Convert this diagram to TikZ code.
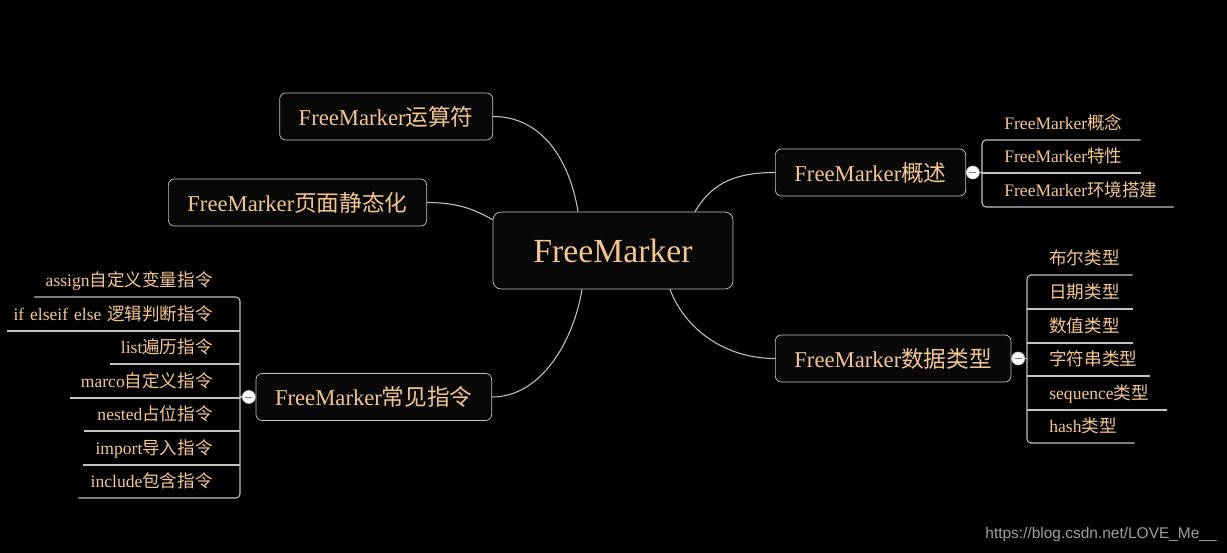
\documentclass[tikz,border=0pt]{standalone}
\usepackage{fontspec}
\setmainfont{Liberation Serif}
\newfontfamily\cjkfont{Noto Sans CJK SC}
\newfontfamily\markfont{Liberation Sans}
\usepackage{tikz}
\usetikzlibrary{positioning}
\definecolor{fmorange}{RGB}{244,198,142}
\definecolor{fmline}{RGB}{195,195,195}
\definecolor{fmbox}{RGB}{8,8,8}
\newcommand{\zh}[1]{{\cjkfont #1}}

\begin{document}
\begin{tikzpicture}[x=0.02cm,y=-0.02cm,
    roottopic/.style={draw=fmline,fill=fmbox,rounded corners=0.16cm,text=fmorange,font=\fontsize{19.2}{22}\selectfont,minimum width=4.8cm,minimum height=1.54cm},
    topic/.style={draw=fmline,fill=fmbox,rounded corners=0.12cm,text=fmorange,font=\fontsize{12.9}{15}\selectfont,minimum height=0.94cm,inner xsep=0.38cm},
    leafr/.style={anchor=south west,inner xsep=0pt,inner ysep=0.1cm,text depth=0.1cm,text width=#1,align=left,text=fmorange,font=\fontsize{10}{12}\selectfont},
    leafl/.style={anchor=south east,inner xsep=0pt,inner ysep=0.1cm,text depth=0.1cm,text width=#1,align=right,text=fmorange,font=\fontsize{10}{12}\selectfont},
    knob/.style={circle,fill=white,draw=fmline,minimum size=0.26cm,inner sep=0pt,
        path picture={\draw[gray,line width=0.5pt] ([xshift=-0.07cm]path picture bounding box.center) -- ([xshift=0.07cm]path picture bounding box.center);}},
    link/.style={fmline,line width=0.6pt}]
        % canvas
        \fill[black] (0,0) rectangle (1227,553);
        \useasboundingbox (0,0) rectangle (1227,553);

        % central topic
        \node[roottopic] (root) at (613,250.5) {FreeMarker};

        % main topics
        \node[topic,anchor=east] (ops) at (493,116.5) {FreeMarker\zh{运算符}};
        \node[topic,anchor=east] (static) at (427,202.5) {FreeMarker\zh{页面静态化}};
        \node[topic,anchor=east] (directives) at (492,397) {FreeMarker\zh{常见指令}};
        \node[topic,anchor=west] (overview) at (775,172.5) {FreeMarker\zh{概述}};
        \node[topic,anchor=west] (datatypes) at (775,358.5) {FreeMarker\zh{数据类型}};

        \draw[link] (ops.east) .. controls +(50,0) and +(-8,-50) .. ([xshift=-0.7cm]root.north);
        \draw[link] (static.east) .. controls +(35,0) and +(-15,-8) .. ([yshift=-0.16cm]root.north west);
        \draw[link] (directives.east) .. controls +(50,0) and +(-8,50) .. ([xshift=-0.62cm]root.south);
        \draw[link] ([xshift=1.64cm]root.north) .. controls +(15,-25) and +(-45,0) .. (overview.west);
        \draw[link] ([xshift=1.14cm]root.south) .. controls +(15,40) and +(-50,0) .. (datatypes.west);

        % overview leaves
        \node[leafr=3.16cm] (ov1) at (982,140) {\kern0.44cm FreeMarker\zh{概念}};
        \node[leafr=3.16cm] (ov2) at (982,173) {\kern0.44cm FreeMarker\zh{特性}};
        \node[leafr=3.82cm] (ov3) at (982,207) {\kern0.44cm FreeMarker\zh{环境搭建}};

        \draw[link,rounded corners=0.08cm] (ov1.south east) -- (ov1.south west) -- (ov3.south west) -- (ov3.south east);
        \draw[link] (ov2.south west) -- (ov2.south east);
        \node[knob,right=0pt of overview] (ovknob) {};
        \draw[link] (ovknob) -- (ovknob -| ov1.south west);

        % data type leaves
        \node[leafr=2.1cm] (dt1) at (1027,275) {\kern0.44cm\zh{布尔类型}};
        \node[leafr=2.1cm] (dt2) at (1027,309) {\kern0.44cm\zh{日期类型}};
        \node[leafr=2.1cm] (dt3) at (1027,343) {\kern0.44cm\zh{数值类型}};
        \node[leafr=2.44cm] (dt4) at (1027,376) {\kern0.44cm\zh{字符串类型}};
        \node[leafr=2.78cm] (dt5) at (1027,410) {\kern0.44cm sequence\zh{类型}};
        \node[leafr=2.14cm] (dt6) at (1027,443) {\kern0.44cm hash\zh{类型}};

        \draw[link,rounded corners=0.08cm] (dt1.south east) -- (dt1.south west) -- (dt6.south west) -- (dt6.south east);
        \foreach \leaf in {dt2,dt3,dt4,dt5}
            \draw[link] (\leaf.south west) -- (\leaf.south east);
        \node[knob,right=0pt of datatypes] (dtknob) {};
        \draw[link] (dtknob) -- (dtknob -| dt1.south west);

        % directive leaves
        \node[leafl=4.1cm] (di1) at (240,297) {assign\zh{自定义变量指令}\kern0.54cm};
        \node[leafl=4.64cm] (di2) at (240,331) {if elseif else \zh{逻辑判断指令}\kern0.54cm};
        \node[leafl=2.58cm] (di3) at (240,364) {list\zh{遍历指令}\kern0.54cm};
        \node[leafl=3.38cm] (di4) at (240,398) {marco\zh{自定义指令}\kern0.54cm};
        \node[leafl=3.1cm] (di5) at (240,431) {nested\zh{占位指令}\kern0.54cm};
        \node[leafl=3.12cm] (di6) at (240,465) {import\zh{导入指令}\kern0.54cm};
        \node[leafl=3.22cm] (di7) at (240,498) {include\zh{包含指令}\kern0.54cm};

        \draw[link,rounded corners=0.08cm] (di1.south west) -- (di1.south east) -- (di7.south east) -- (di7.south west);
        \foreach \leaf in {di2,di3,di4,di5,di6}
            \draw[link] (\leaf.south west) -- (\leaf.south east);
        \node[knob,left=0pt of directives] (diknob) {};
        \draw[link] (diknob) -- (diknob -| di1.south east);

        % watermark
        \node[anchor=east,inner sep=0pt,text=gray!75,font=\markfont\fontsize{8.8}{10}\selectfont] (mark) at (1217,535) {https://blog.csdn.net/LOVE\_Me\_\_};
    \end{tikzpicture}
\end{document}
